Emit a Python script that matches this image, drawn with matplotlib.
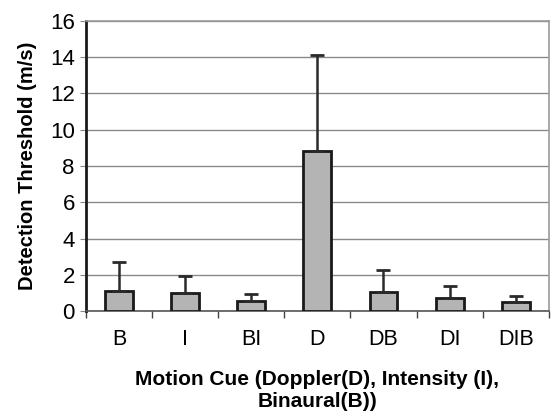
import matplotlib.pyplot as plt
import numpy as np

# Detection thresholds per motion cue (mean and upper error)
cues = ['B', 'I', 'BI', 'D', 'DB', 'DI', 'DIB']
thresholds = [1.1, 1.0, 0.57, 8.8, 1.03, 0.72, 0.48]
upper_err = [1.6, 0.93, 0.39, 5.3, 1.24, 0.66, 0.33]

plt.rcParams['font.family'] = ['Liberation Sans', 'DejaVu Sans']

fig = plt.figure(figsize=(5.51, 4.17), dpi=100)
ax = fig.add_axes([0.156, 0.254, 0.84, 0.696])

x = np.arange(len(cues))
ax.bar(x, thresholds, width=0.42, color='#b4b4b4', edgecolor='#1a1a1a',
       linewidth=2, zorder=3,
       yerr=[np.zeros(len(cues)), upper_err], capsize=5,
       error_kw=dict(ecolor='#2a2a2a', elinewidth=1.8, capthick=2))

ax.set_ylim(0, 16)
ax.set_xlim(-0.5, len(cues) - 0.5)
ax.set_yticks(np.arange(0, 17, 2))
ax.yaxis.grid(True, color='#8a8a8a', linewidth=1)
ax.set_axisbelow(True)

# category labels centred, tick marks on category boundaries
ax.set_xticks(x)
ax.set_xticklabels(cues, fontsize=15.5)
ax.tick_params(axis='x', length=0, pad=13)
ax.set_xticks(np.arange(-0.5, len(cues)), minor=True)
ax.tick_params(axis='x', which='minor', length=5, width=1, color='#444444')
ax.tick_params(axis='y', labelsize=16, length=4, color='#888888', pad=4)

for side in ['top', 'right']:
    ax.spines[side].set_color('#9a9a9a')
    ax.spines[side].set_linewidth(1.2)
ax.spines['left'].set_color('#1a1a1a')
ax.spines['left'].set_linewidth(2)
ax.spines['bottom'].set_color('#555555')
ax.spines['bottom'].set_linewidth(1.2)

ax.set_ylabel('Detection Threshold (m/s)', fontsize=14.5, fontweight='bold',
              labelpad=9)
ax.set_xlabel('Motion Cue (Doppler(D), Intensity (I),\nBinaural(B))',
              fontsize=15, fontweight='bold', labelpad=14, linespacing=1.2)

fig.savefig('out.png', dpi=100)
